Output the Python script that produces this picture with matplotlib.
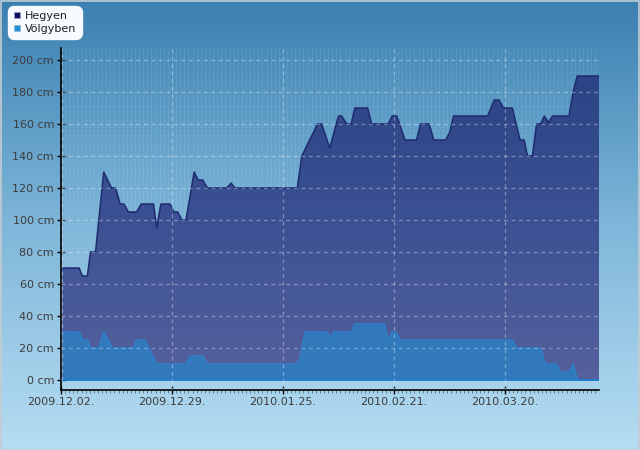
import matplotlib
matplotlib.use("Agg")
import matplotlib.pyplot as plt
import numpy as np
from matplotlib.colors import LinearSegmentedColormap
from matplotlib.lines import Line2D
from matplotlib.patches import Polygon, Rectangle

# snow depth, days counted from 2009.12.02.
hegyen_days = [0.3, 4.4, 5.2, 6.4, 7.2, 8.4, 9.0, 10.4, 12.3, 13.3, 14.4, 15.3,
               16.4, 18.4, 19.5, 22.5, 23.3, 24.3, 26.5, 27.5, 28.4, 29.4, 30.4,
               32.4, 33.4, 34.5, 35.6, 40.3, 41.4, 42.3, 57.5, 58.6, 62.4, 63.4,
               65.4, 67.5, 68.3, 69.5, 70.6, 71.5, 74.6, 75.6, 79.6, 80.6, 81.7,
               83.7, 86.5, 87.5, 89.6, 90.7, 93.6, 94.6, 95.5, 103.8, 105.4,
               106.6, 107.6, 109.8, 111.7, 112.7, 113.5, 114.7, 115.7, 116.7,
               117.6, 118.6, 119.6, 123.6, 124.6, 125.6, 130.9]
hegyen_cm = [70, 70, 65, 65, 80, 80, 95, 130, 120, 120, 110, 110,
             105, 105, 110, 110, 95, 110, 110, 105, 105, 100, 100,
             130, 125, 125, 120, 120, 123, 120, 120, 140, 160, 160,
             145, 165, 165, 160, 160, 170, 170, 160, 160, 165, 165,
             150, 150, 160, 160, 150, 150, 155, 165, 165, 175,
             175, 170, 170, 150, 150, 140, 140, 160, 160,
             165, 161, 165, 165, 180, 190, 190]

volgyben_days = [0.3, 4.4, 5.2, 6.4, 7.2, 9.2, 10.4, 12.5, 17.6, 18.4, 20.4, 23.3,
                 30.4, 31.4, 34.5, 35.6, 57.3, 58.2, 59.4, 64.8, 65.4, 66.5, 70.6,
                 71.5, 78.7, 79.6, 80.6, 81.4, 82.6, 109.8, 110.9, 116.7, 117.8,
                 120.6, 121.6, 123.6, 124.6, 125.7, 130.9]
volgyben_cm = [30, 30, 25, 25, 20, 20, 30, 20, 20, 25, 25, 10,
               10, 15, 15, 10, 10, 14, 30, 30, 26.5, 30, 30,
               35, 35, 25, 30, 30, 25, 25, 20, 20, 10,
               10, 5, 5, 10, 0, 0]

series_names = ["Hegyen", "Völgyben"]
xtick_days = [0, 27, 54, 81, 108]
xtick_labels = ["2009.12.02.", "2009.12.29.", "2010.01.25.", "2010.02.21.", "2010.03.20."]
ytick_vals = list(range(0, 201, 20))

fig = plt.figure(figsize=(6.4, 4.5), dpi=100)

# background gradient
bg = fig.add_axes([0, 0, 1, 1], zorder=-10)
bg_cmap = LinearSegmentedColormap.from_list("bg", ["#3a80b1", "#7fb6d9", "#b6ddf3"])
bg.imshow(np.linspace(0, 1, 256).reshape(-1, 1), aspect="auto", cmap=bg_cmap,
          extent=[0, 1, 0, 1], origin="upper")
bg.add_patch(Rectangle((0.0008, 0.001), 0.9984, 0.997, fill=False,
                       edgecolor="#c4ccd2", lw=1.2, transform=bg.transAxes))
bg.axis("off")

ax = fig.add_axes([61 / 640, 1 - 390 / 450, (599 - 61) / 640, (390 - 48) / 450])
ax.set_facecolor("none")
x_max = 130.9
y_min, y_max = -6.25, 207.5
ax.set_xlim(0, x_max)
ax.set_ylim(y_min, y_max)

# faint daily texture
for d in range(1, 131):
    ax.axvline(d, color="white", alpha=0.11, lw=0.7, dashes=(3.5, 1.5), zorder=1)

# Hegyen: gradient fill clipped to its area
verts = list(zip(hegyen_days, hegyen_cm)) + [(hegyen_days[-1], 0), (hegyen_days[0], 0)]
poly = Polygon(verts, closed=True, facecolor="none", edgecolor="none")
ax.add_patch(poly)
h_cmap = LinearSegmentedColormap.from_list("h", ["#2a4283", "#3b5193", "#55619d"])
im = ax.imshow(np.linspace(0, 1, 256).reshape(-1, 1), aspect="auto", cmap=h_cmap,
               extent=[0, x_max, 0, 200], origin="upper", zorder=2)
im.set_clip_path(poly)
ax.plot(hegyen_days, hegyen_cm, color="#1d2b70", lw=1.1, zorder=4)

# Völgyben
ax.fill_between(volgyben_days, volgyben_cm, 0, color="#3179bb", lw=0, zorder=3)
ax.plot(volgyben_days, volgyben_cm, color="#2c82cc", lw=1.0, zorder=4)
ax.plot([volgyben_days[0], volgyben_days[-1]], [0, 0], color="#1c7ad0", lw=1.2, zorder=4)

# grid
for v in ytick_vals[1:]:
    ax.axhline(v, color="white", alpha=0.35, lw=0.9, dashes=(3, 3), zorder=5)
for d in xtick_days[1:]:
    ax.axvline(d, color="white", alpha=0.35, lw=0.9, dashes=(3, 3), zorder=5)
ax.axvline(0.15, ymin=0.03, color="white", alpha=0.35, lw=0.9, dashes=(3, 3), zorder=5)

ax.set_yticks(ytick_vals)
ax.set_yticklabels([f"{v} cm" for v in ytick_vals])
ax.set_xticks(xtick_days)
ax.set_xticklabels(xtick_labels)
ax.set_xticks(range(0, 131), minor=True)
ax.tick_params(axis="both", which="major", direction="inout", length=6, width=1,
               color="black", labelsize=8, labelcolor="#3c3c3c")
ax.tick_params(axis="x", which="major", pad=2)
ax.tick_params(axis="y", which="major", pad=2)
ax.tick_params(axis="x", which="minor", direction="out", length=2.5, width=0.6,
               color="#5a6f80")
for side in ["top", "right"]:
    ax.spines[side].set_visible(False)
for side in ["left", "bottom"]:
    ax.spines[side].set_color("black")
    ax.spines[side].set_linewidth(1.2)

handles = [
    Line2D([], [], marker="s", ls="none", markersize=5, markerfacecolor="#0e0e62",
           markeredgecolor="#9aa3bd", markeredgewidth=0.6),
    Line2D([], [], marker="s", ls="none", markersize=5, markerfacecolor="#1f8fd8",
           markeredgecolor="#9ab9d0", markeredgewidth=0.6),
]
leg = fig.legend(handles, series_names, loc="upper left",
                 bbox_to_anchor=(10 / 640, 1 - 8 / 450), fontsize=8, frameon=True,
                 fancybox=True, framealpha=1, handlelength=0.6, handletextpad=0.45,
                 labelspacing=0.2, borderpad=0.3, borderaxespad=0)
leg.get_frame().set_facecolor("#f7fbff")
leg.get_frame().set_edgecolor("#f7fbff")
leg.get_frame().set_boxstyle("round", pad=0.2, rounding_size=0.6)
for t in leg.get_texts():
    t.set_color("#202020")

fig.savefig("out.png", dpi=100)
